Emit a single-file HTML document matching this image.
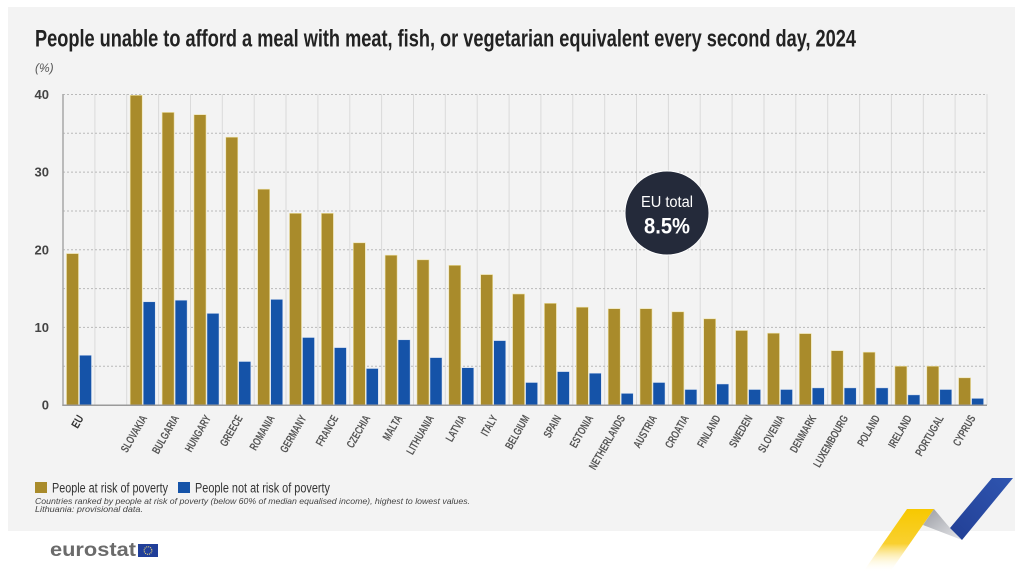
<!DOCTYPE html>
<html><head><meta charset="utf-8"><style>
html,body{margin:0;padding:0;background:#fff;}
svg{display:block;}
</style></head><body>
<svg width="1024" height="577" viewBox="0 0 1024 577" xmlns="http://www.w3.org/2000/svg" font-family="'Liberation Sans', sans-serif">
<defs>
<linearGradient id="yg" x1="0" y1="0" x2="0" y2="1">
<stop offset="0" stop-color="#f7c800"/><stop offset="0.55" stop-color="#f9d030"/><stop offset="1" stop-color="#ffffff" stop-opacity="0"/>
</linearGradient>
<linearGradient id="gg" x1="0" y1="0" x2="1" y2="1">
<stop offset="0" stop-color="#9a9ca3"/><stop offset="1" stop-color="#e6e7ea"/>
</linearGradient>
<linearGradient id="bg" x1="1" y1="0" x2="0" y2="1">
<stop offset="0" stop-color="#2f55b0"/><stop offset="1" stop-color="#223f95"/>
</linearGradient>
</defs>
<rect x="0" y="0" width="1024" height="577" fill="#ffffff"/>
<rect x="8" y="7" width="1007" height="524" fill="#f3f3f3"/>

<text x="35" y="46.5" font-size="24" font-weight="bold" fill="#222" textLength="821" lengthAdjust="spacingAndGlyphs">People unable to afford a meal with meat, fish, or vegetarian equivalent every second day, 2024</text>
<text x="35" y="72" font-size="12" font-style="italic" fill="#555">(%)</text>

<!-- vertical gridlines -->
<g stroke="#dadada" stroke-width="1">
<line x1="94.9" y1="94" x2="94.9" y2="405"/><line x1="126.7" y1="94" x2="126.7" y2="405"/><line x1="158.6" y1="94" x2="158.6" y2="405"/><line x1="190.5" y1="94" x2="190.5" y2="405"/><line x1="222.3" y1="94" x2="222.3" y2="405"/><line x1="254.2" y1="94" x2="254.2" y2="405"/><line x1="286" y1="94" x2="286" y2="405"/><line x1="317.9" y1="94" x2="317.9" y2="405"/><line x1="349.8" y1="94" x2="349.8" y2="405"/><line x1="381.6" y1="94" x2="381.6" y2="405"/><line x1="413.5" y1="94" x2="413.5" y2="405"/><line x1="445.3" y1="94" x2="445.3" y2="405"/><line x1="477.2" y1="94" x2="477.2" y2="405"/><line x1="509.1" y1="94" x2="509.1" y2="405"/><line x1="540.9" y1="94" x2="540.9" y2="405"/><line x1="572.8" y1="94" x2="572.8" y2="405"/><line x1="604.7" y1="94" x2="604.7" y2="405"/><line x1="636.5" y1="94" x2="636.5" y2="405"/><line x1="668.4" y1="94" x2="668.4" y2="405"/><line x1="700.2" y1="94" x2="700.2" y2="405"/><line x1="732.1" y1="94" x2="732.1" y2="405"/><line x1="764" y1="94" x2="764" y2="405"/><line x1="795.8" y1="94" x2="795.8" y2="405"/><line x1="827.7" y1="94" x2="827.7" y2="405"/><line x1="859.6" y1="94" x2="859.6" y2="405"/><line x1="891.4" y1="94" x2="891.4" y2="405"/><line x1="923.3" y1="94" x2="923.3" y2="405"/><line x1="955.1" y1="94" x2="955.1" y2="405"/><line x1="987" y1="94" x2="987" y2="405"/>
</g>
<!-- horizontal dotted gridlines -->
<g stroke="#b9b9b9" stroke-width="1" stroke-dasharray="2,2">
<line x1="63" y1="366.2" x2="987" y2="366.2"/><line x1="63" y1="327.4" x2="987" y2="327.4"/><line x1="63" y1="288.6" x2="987" y2="288.6"/><line x1="63" y1="249.8" x2="987" y2="249.8"/><line x1="63" y1="211" x2="987" y2="211"/><line x1="63" y1="172.1" x2="987" y2="172.1"/><line x1="63" y1="133.3" x2="987" y2="133.3"/><line x1="63" y1="94.5" x2="987" y2="94.5"/>
</g>

<!-- y labels -->
<g font-size="13" font-weight="bold" fill="#444" text-anchor="end">
<text x="49" y="409.5">0</text><text x="49" y="331.9">10</text><text x="49" y="254.3">20</text><text x="49" y="176.6">30</text><text x="49" y="99">40</text>
</g>

<!-- gold bars -->
<g fill="#a98b2b" stroke="#efe3a8" stroke-width="0.6">
<rect x="66.5" y="253.6" width="12" height="151.4"/>
<rect x="130.2" y="95.3" width="12" height="309.7"/>
<rect x="162.1" y="112.4" width="12" height="292.6"/>
<rect x="194" y="114.7" width="12" height="290.3"/>
<rect x="225.8" y="137.2" width="12" height="267.8"/>
<rect x="257.7" y="189.2" width="12" height="215.8"/>
<rect x="289.5" y="213.3" width="12" height="191.7"/>
<rect x="321.4" y="213.3" width="12" height="191.7"/>
<rect x="353.3" y="242.8" width="12" height="162.2"/>
<rect x="385.1" y="255.2" width="12" height="149.8"/>
<rect x="417" y="259.8" width="12" height="145.2"/>
<rect x="448.8" y="265.3" width="12" height="139.7"/>
<rect x="480.7" y="274.6" width="12" height="130.4"/>
<rect x="512.6" y="294" width="12" height="111"/>
<rect x="544.4" y="303.3" width="12" height="101.7"/>
<rect x="576.3" y="307.2" width="12" height="97.8"/>
<rect x="608.2" y="308.7" width="12" height="96.3"/>
<rect x="640" y="308.7" width="12" height="96.3"/>
<rect x="671.9" y="311.8" width="12" height="93.2"/>
<rect x="703.7" y="318.8" width="12" height="86.2"/>
<rect x="735.6" y="330.5" width="12" height="74.5"/>
<rect x="767.5" y="333.2" width="12" height="71.8"/>
<rect x="799.3" y="333.6" width="12" height="71.4"/>
<rect x="831.2" y="350.7" width="12" height="54.3"/>
<rect x="863.1" y="352.2" width="12" height="52.8"/>
<rect x="894.9" y="366.2" width="12" height="38.8"/>
<rect x="926.8" y="366.2" width="12" height="38.8"/>
<rect x="958.6" y="377.8" width="12" height="27.2"/>
</g>
<!-- blue bars -->
<g fill="#1553a8" stroke="#d6e2f3" stroke-width="0.5">
<rect x="79.5" y="355.3" width="12" height="49.7"/>
<rect x="143.2" y="301.8" width="12" height="103.2"/>
<rect x="175.1" y="300.2" width="12" height="104.8"/>
<rect x="207" y="313.4" width="12" height="91.6"/>
<rect x="238.8" y="361.5" width="12" height="43.5"/>
<rect x="270.7" y="299.4" width="12" height="105.6"/>
<rect x="302.5" y="337.5" width="12" height="67.5"/>
<rect x="334.4" y="347.6" width="12" height="57.4"/>
<rect x="366.3" y="368.5" width="12" height="36.5"/>
<rect x="398.1" y="339.8" width="12" height="65.2"/>
<rect x="430" y="357.6" width="12" height="47.4"/>
<rect x="461.8" y="367.7" width="12" height="37.3"/>
<rect x="493.7" y="340.6" width="12" height="64.4"/>
<rect x="525.6" y="382.5" width="12" height="22.5"/>
<rect x="557.4" y="371.6" width="12" height="33.4"/>
<rect x="589.3" y="373.2" width="12" height="31.8"/>
<rect x="621.2" y="393.4" width="12" height="11.6"/>
<rect x="653" y="382.5" width="12" height="22.5"/>
<rect x="684.9" y="389.5" width="12" height="15.5"/>
<rect x="716.7" y="384" width="12" height="21"/>
<rect x="748.6" y="389.5" width="12" height="15.5"/>
<rect x="780.5" y="389.5" width="12" height="15.5"/>
<rect x="812.3" y="387.9" width="12" height="17.1"/>
<rect x="844.2" y="387.9" width="12" height="17.1"/>
<rect x="876.1" y="387.9" width="12" height="17.1"/>
<rect x="907.9" y="394.9" width="12" height="10.1"/>
<rect x="939.8" y="389.5" width="12" height="15.5"/>
<rect x="971.6" y="398.4" width="12" height="6.6"/>
</g>

<!-- axes -->
<line x1="63" y1="94" x2="63" y2="405.5" stroke="#a8a8a8" stroke-width="1.5"/>
<line x1="62.3" y1="405.2" x2="987" y2="405.2" stroke="#9a9a9a" stroke-width="1.5"/>

<!-- x labels -->
<g font-size="11.5" font-weight="bold" fill="#555" text-anchor="end">
<text transform="translate(84,418) rotate(-60) scale(0.8,1)" fill="#333">EU</text>
<text transform="translate(147.5,418) rotate(-60) scale(0.7,1)">SLOVAKIA</text>
<text transform="translate(179.4,418) rotate(-60) scale(0.7,1)">BULGARIA</text>
<text transform="translate(211.3,418) rotate(-60) scale(0.7,1)">HUNGARY</text>
<text transform="translate(243.1,418) rotate(-60) scale(0.7,1)">GREECE</text>
<text transform="translate(275,418) rotate(-60) scale(0.7,1)">ROMANIA</text>
<text transform="translate(306.8,418) rotate(-60) scale(0.7,1)">GERMANY</text>
<text transform="translate(338.7,418) rotate(-60) scale(0.7,1)">FRANCE</text>
<text transform="translate(370.6,418) rotate(-60) scale(0.7,1)">CZECHIA</text>
<text transform="translate(402.4,418) rotate(-60) scale(0.7,1)">MALTA</text>
<text transform="translate(434.3,418) rotate(-60) scale(0.7,1)">LITHUANIA</text>
<text transform="translate(466.1,418) rotate(-60) scale(0.7,1)">LATVIA</text>
<text transform="translate(498,418) rotate(-60) scale(0.7,1)">ITALY</text>
<text transform="translate(529.9,418) rotate(-60) scale(0.7,1)">BELGIUM</text>
<text transform="translate(561.7,418) rotate(-60) scale(0.7,1)">SPAIN</text>
<text transform="translate(593.6,418) rotate(-60) scale(0.7,1)">ESTONIA</text>
<text transform="translate(625.5,418) rotate(-60) scale(0.7,1)">NETHERLANDS</text>
<text transform="translate(657.3,418) rotate(-60) scale(0.7,1)">AUSTRIA</text>
<text transform="translate(689.2,418) rotate(-60) scale(0.7,1)">CROATIA</text>
<text transform="translate(721,418) rotate(-60) scale(0.7,1)">FINLAND</text>
<text transform="translate(752.9,418) rotate(-60) scale(0.7,1)">SWEDEN</text>
<text transform="translate(784.8,418) rotate(-60) scale(0.7,1)">SLOVENIA</text>
<text transform="translate(816.6,418) rotate(-60) scale(0.7,1)">DENMARK</text>
<text transform="translate(848.5,418) rotate(-60) scale(0.7,1)">LUXEMBOURG</text>
<text transform="translate(880.4,418) rotate(-60) scale(0.7,1)">POLAND</text>
<text transform="translate(912.2,418) rotate(-60) scale(0.7,1)">IRELAND</text>
<text transform="translate(944.1,418) rotate(-60) scale(0.7,1)">PORTUGAL</text>
<text transform="translate(975.9,418) rotate(-60) scale(0.7,1)">CYPRUS</text>
</g>

<!-- EU total circle -->
<circle cx="667" cy="213" r="42" fill="#242a3a" stroke="#ffffff" stroke-width="1"/>
<text x="667" y="207" font-size="15.5" fill="#ffffff" text-anchor="middle" textLength="52" lengthAdjust="spacingAndGlyphs">EU total</text>
<text x="667" y="233.5" font-size="22" font-weight="bold" fill="#ffffff" text-anchor="middle" textLength="46" lengthAdjust="spacingAndGlyphs">8.5%</text>

<!-- legend -->
<rect x="35" y="482" width="12" height="11" fill="#a98b2b"/>
<text x="52" y="492.5" font-size="13.5" fill="#333" textLength="116" lengthAdjust="spacingAndGlyphs">People at risk of poverty</text>
<rect x="178" y="482" width="12" height="11" fill="#1553a8"/>
<text x="195" y="492.5" font-size="13.5" fill="#333" textLength="135" lengthAdjust="spacingAndGlyphs">People not at risk of poverty</text>
<text x="35" y="504" font-size="8.5" font-style="italic" fill="#444" textLength="435" lengthAdjust="spacingAndGlyphs">Countries ranked by people at risk of poverty (below 60% of median equalised income), highest to lowest values.</text>
<text x="35" y="512" font-size="8.5" font-style="italic" fill="#444" textLength="108" lengthAdjust="spacingAndGlyphs">Lithuania: provisional data.</text>

<!-- eurostat logo -->
<text x="50" y="556" font-size="19" font-weight="bold" fill="#6b6b6b" textLength="86" lengthAdjust="spacingAndGlyphs">eurostat</text>
<rect x="138" y="544" width="20" height="13" fill="#213f99"/>
<circle cx="148" cy="550.5" r="3.8" fill="none" stroke="#e8d77a" stroke-width="1.2" stroke-dasharray="1,1"/>

<!-- decoration -->
<polygon points="907,509 934,509 890,572 863,572" fill="url(#yg)"/>
<polygon points="934,509 950,528 962,540 923,525" fill="url(#gg)"/>
<polygon points="992,478 1013,478 962,540 950,528" fill="url(#bg)"/>
</svg>
</body></html>
